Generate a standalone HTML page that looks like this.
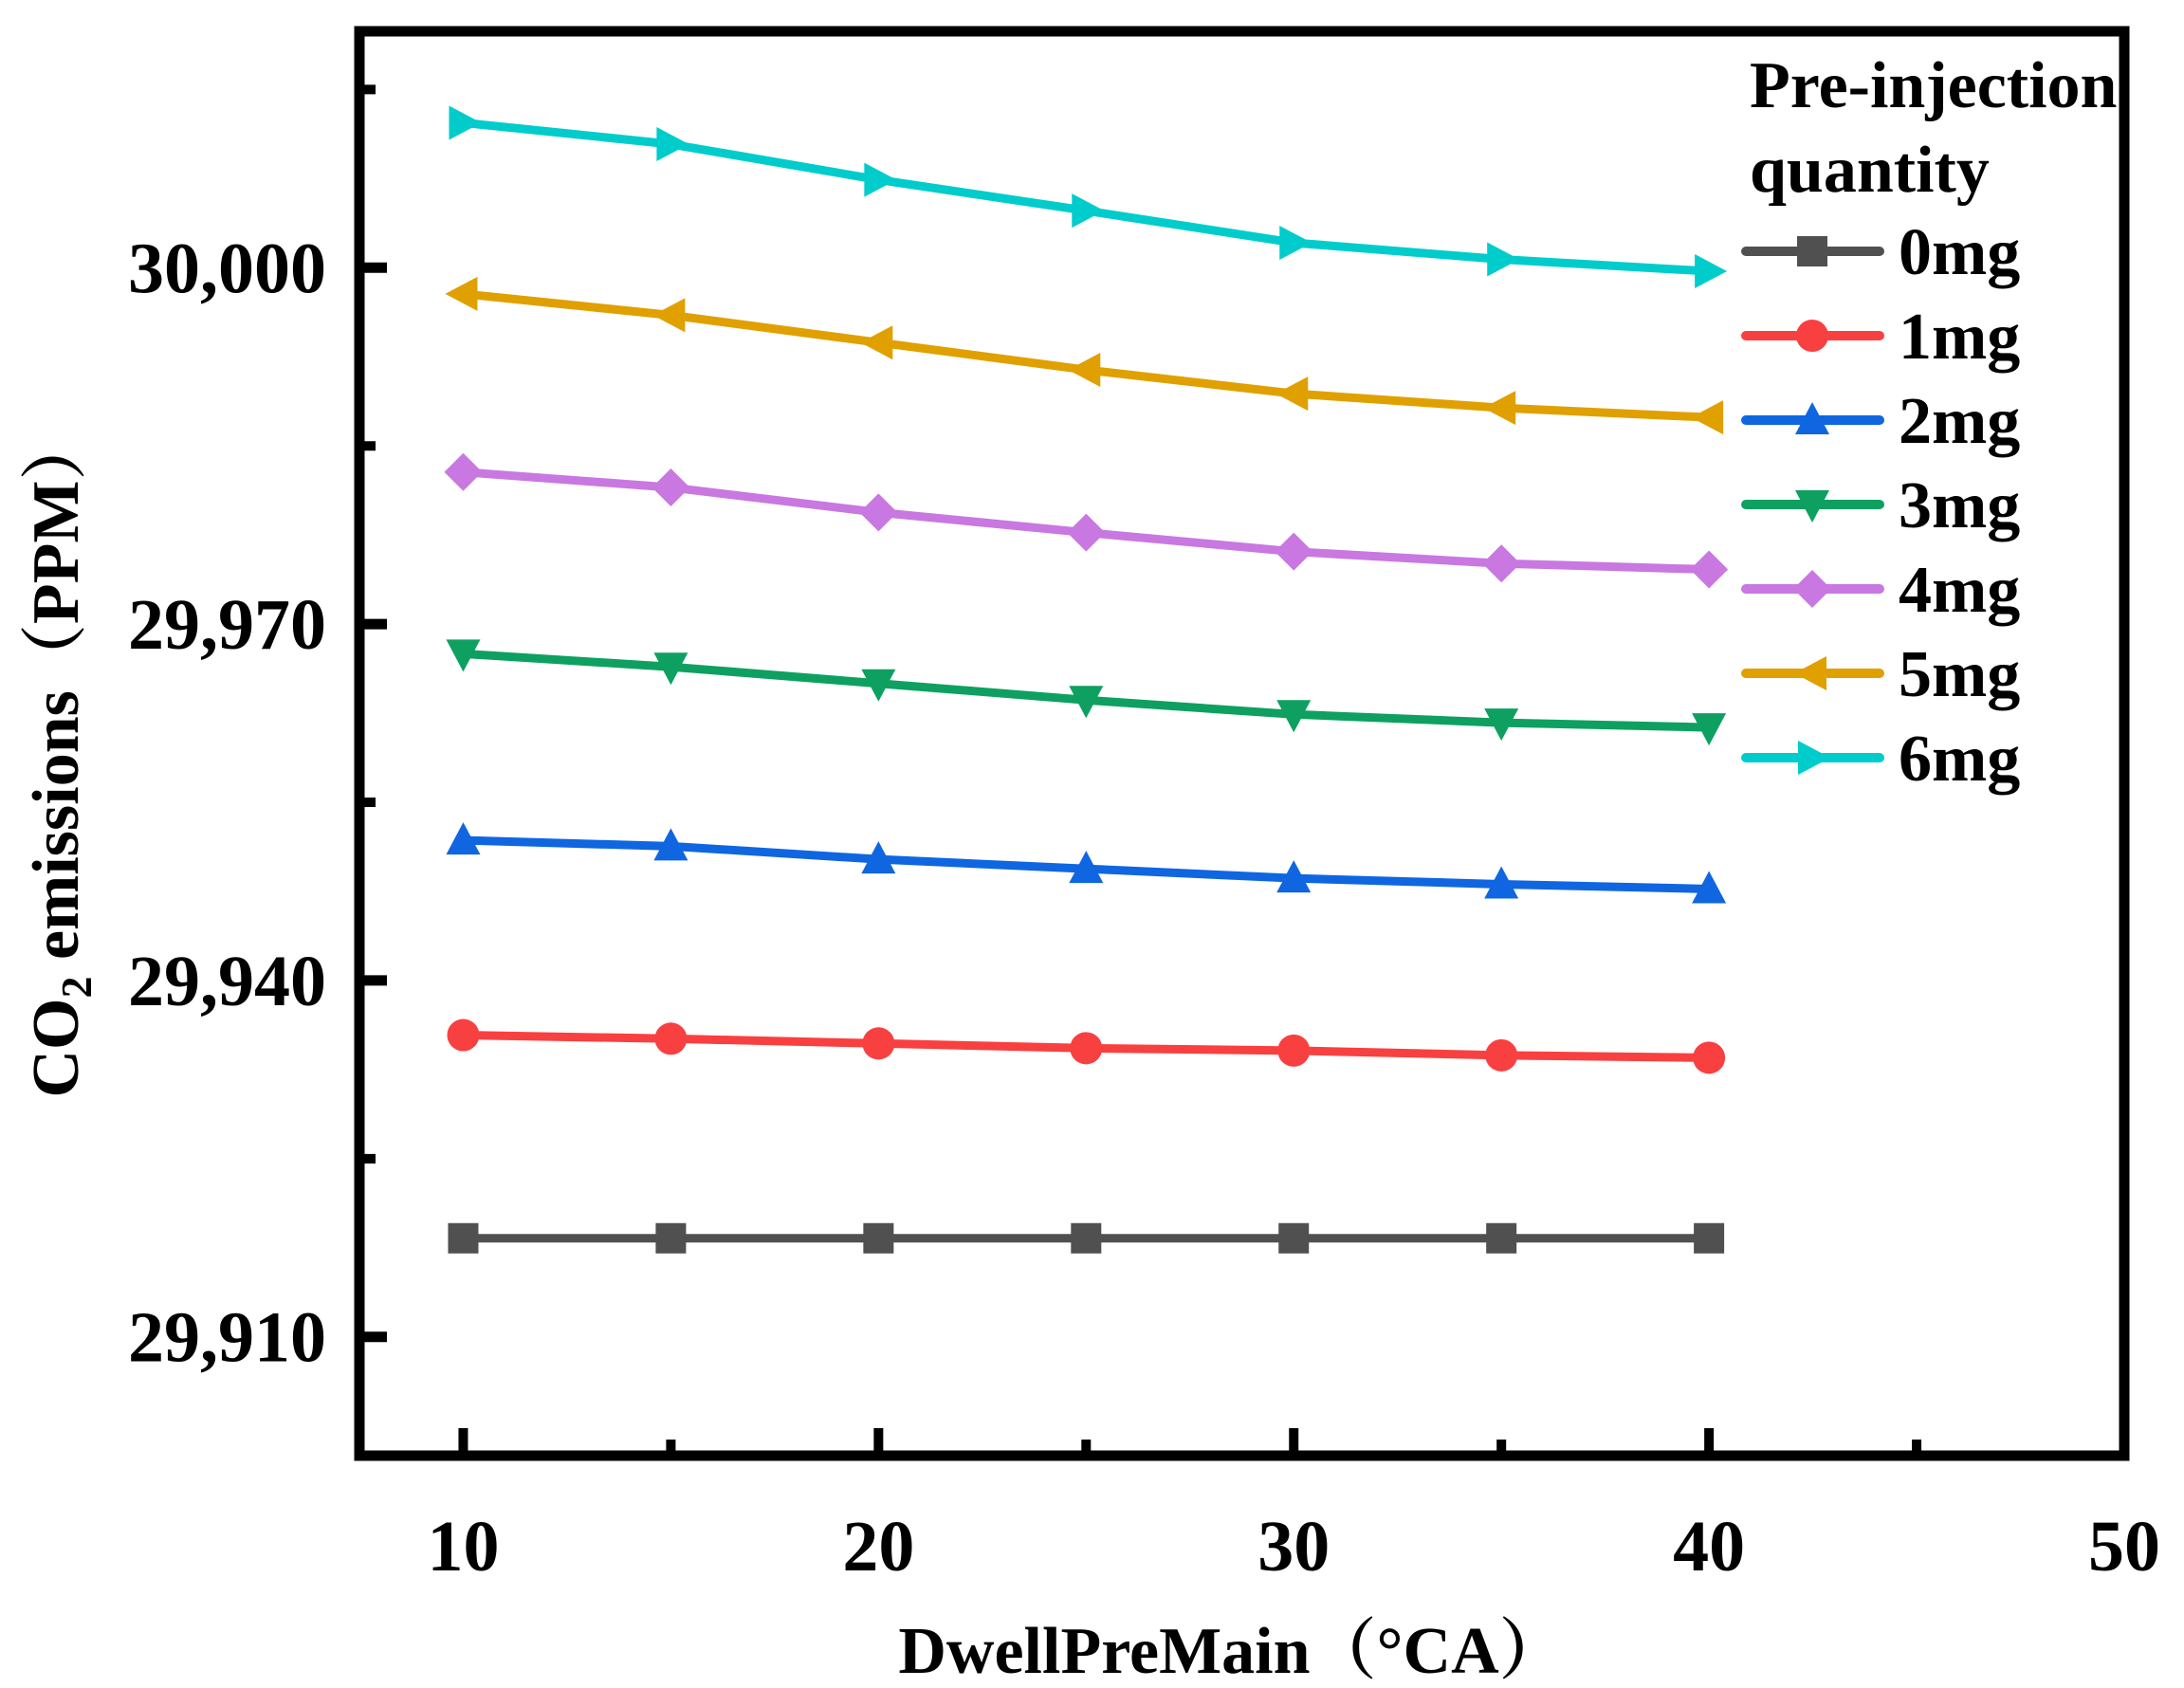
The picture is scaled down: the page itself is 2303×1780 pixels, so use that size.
<!DOCTYPE html>
<html><head><meta charset="utf-8"><style>
html,body{margin:0;padding:0;background:#fff;}
svg{display:block;font-family:"Liberation Serif","Noto Serif CJK SC",serif;font-weight:bold;}
</style></head><body>
<svg id="chart" width="2303" height="1780" viewBox="0 0 2303 1780" xmlns="http://www.w3.org/2000/svg">
<g id="plot"></g>
<g id="axes"></g>
<g id="legend"></g>
<text x="1299" y="1764" font-size="70" text-anchor="middle">DwellPreMain（°CA）</text>
<text transform="translate(82,797) rotate(-90)" font-size="70" text-anchor="middle">CO<tspan font-size="46" dy="14">2</tspan><tspan dy="-14"> emissions（PPM）</tspan></text>
</svg>
<script>
const categories = [10, 15, 20, 25, 30, 35, 40];
const seriesNames = ["0mg", "1mg", "2mg", "3mg", "4mg", "5mg", "6mg"];
const s0 = [29918.3, 29918.3, 29918.3, 29918.3, 29918.3, 29918.3, 29918.3];
const s1 = [29935.4, 29935.1, 29934.7, 29934.3, 29934.1, 29933.7, 29933.5];
const s2 = [29951.8, 29951.3, 29950.2, 29949.4, 29948.6, 29948.1, 29947.7];
const s3 = [29967.5, 29966.4, 29965.0, 29963.6, 29962.4, 29961.7, 29961.3];
const s4 = [29982.8, 29981.5, 29979.4, 29977.7, 29976.1, 29975.1, 29974.6];
const s5 = [29997.8, 29996.0, 29993.7, 29991.4, 29989.4, 29988.2, 29987.4];
const s6 = [30012.2, 30010.4, 30007.4, 30004.8, 30002.1, 30000.7, 29999.7];
const xTickValues = [10, 20, 30, 40, 50];
const xTickLabels = ["10", "20", "30", "40", "50"];
const yTickValues = [29910, 29940, 29970, 30000];
const yTickLabels = ["29,910", "29,940", "29,970", "30,000"];

const allSeries = [s0, s1, s2, s3, s4, s5, s6];
const colors = ["#505050", "#f84040", "#0f66e0", "#0ea060", "#c878e0", "#e0a000", "#00cccc"];
const shapes = ["square", "circle", "up", "down", "diamond", "left", "right"];
const L = 379, R = 2240, T = 33, B = 1535;
const X0 = 7.5, X1 = 50, Y0 = 29900.0, Y1 = 30019.9;
function sx(v) { return L + (v - X0) / (X1 - X0) * (R - L); }
function sy(v) { return B - (v - Y0) / (Y1 - Y0) * (B - T); }
const NS = "http://www.w3.org/2000/svg";
function mk(tag, attrs, parent) {
  const e = document.createElementNS(NS, tag);
  for (const k in attrs) e.setAttribute(k, attrs[k]);
  parent.appendChild(e);
  return e;
}
function marker(shape, cx, cy, col, parent) {
  const r = 17;
  let e;
  if (shape === "square") e = mk("rect", {x: cx - r + 1, y: cy - r + 1, width: 2 * r - 2, height: 2 * r - 2, fill: col}, parent);
  else if (shape === "circle") e = mk("circle", {cx: cx, cy: cy, r: r, fill: col}, parent);
  else {
    let p;
    if (shape === "up") p = [[cx, cy - r - 2], [cx + r + 1, cy + r - 2], [cx - r - 1, cy + r - 2]];
    if (shape === "down") p = [[cx, cy + r + 2], [cx + r + 1, cy - r + 2], [cx - r - 1, cy - r + 2]];
    if (shape === "left") p = [[cx - r - 2, cy], [cx + r - 2, cy - r - 1], [cx + r - 2, cy + r + 1]];
    if (shape === "right") p = [[cx + r + 2, cy], [cx - r + 2, cy - r - 1], [cx - r + 2, cy + r + 1]];
    if (shape === "diamond") p = [[cx, cy - r - 3], [cx + r + 3, cy], [cx, cy + r + 3], [cx - r - 3, cy]];
    e = mk("polygon", {points: p.map(q => q.join(",")).join(" "), fill: col}, parent);
  }
  return e;
}
const plot = document.getElementById("plot");
allSeries.forEach((s, i) => {
  const g = mk("g", {}, plot);
  
  
  const pts = s.map((v, j) => sx(categories[j]) + "," + sy(v)).join(" ");
  const pl = mk("polyline", {points: pts, fill: "none", stroke: colors[i], "stroke-width": 9, "stroke-linejoin": "round"}, g);
  
  
  s.forEach((v, j) => {
    const m = marker(shapes[i], sx(categories[j]), sy(v), colors[i], g);
    
    
  });
});
const axes = document.getElementById("axes");
const frame = mk("rect", {x: L, y: T, width: R - L, height: B - T, fill: "none", stroke: "#000", "stroke-width": 11}, axes);


xTickValues.forEach((v, i) => {
  const x = sx(v);
  if (v < X1) {
    const t = mk("line", {x1: x, x2: x, y1: B, y2: B - 29, stroke: "#000", "stroke-width": 10}, axes);
    
    
    const m = mk("line", {x1: sx(v + 5), x2: sx(v + 5), y1: B, y2: B - 17, stroke: "#000", "stroke-width": 10}, axes);
    
    
  }
  const lb = mk("text", {x: x, y: 1656, "font-size": 76, "text-anchor": "middle"}, axes);
  lb.textContent = xTickLabels[i];
  
  
});
yTickValues.forEach((v, i) => {
  const y = sy(v);
  const t = mk("line", {x1: L, x2: L + 29, y1: y, y2: y, stroke: "#000", "stroke-width": 11}, axes);
  
  
  const lb = mk("text", {x: 344, y: y + 26, "font-size": 76, "text-anchor": "end"}, axes);
  lb.textContent = yTickLabels[i];
  
  
});
[29925, 29955, 29985, 30015].forEach(v => {
  const y = sy(v);
  const m = mk("line", {x1: L, x2: L + 17, y1: y, y2: y, stroke: "#000", "stroke-width": 10}, axes);
  
  
});
const leg = document.getElementById("legend");
const t1 = mk("text", {x: 1845, y: 113, "font-size": 70}, leg);
t1.textContent = "Pre-injection";


const t2 = mk("text", {x: 1845, y: 202, "font-size": 70}, leg);
t2.textContent = "quantity";


seriesNames.forEach((n, i) => {
  const cy = 265 + i * 89;
  const g = mk("g", {}, leg);
  
  
  mk("line", {x1: 1841, x2: 1982, y1: cy, y2: cy, stroke: colors[i], "stroke-width": 10, "stroke-linecap": "round"}, g);
  marker(shapes[i], 1911, cy, colors[i], g);
  const tx = mk("text", {x: 2002, y: cy + 24, "font-size": 70}, g);
  tx.textContent = n;
});
</script>
</body></html>
